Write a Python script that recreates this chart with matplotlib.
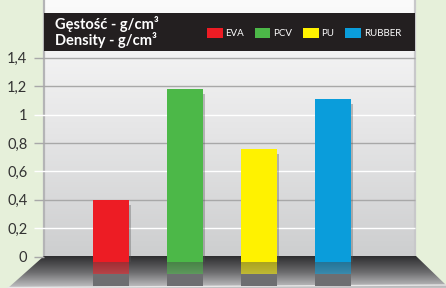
import numpy as np
import matplotlib as mpl
mpl.use("Agg")
import matplotlib.pyplot as plt
from matplotlib.patches import Polygon, Rectangle

# data
materials = ["EVA", "PCV", "PU", "RUBBER"]
density = [0.40, 1.18, 0.76, 1.11]
colors = ["#ed1c24", "#4cb848", "#fff200", "#0a9ddb"]
yticks = [0, 0.2, 0.4, 0.6, 0.8, 1.0, 1.2, 1.4]
ytick_labels = ["0", "0,2", "0,4", "0,6", "0,8", "1", "1,2", "1,4"]
grid_colors = ["#a8a8a8", "#ffffff", "#a8a8a8", "#ffffff", "#a8a8a8", "#ffffff", "#a8a8a8", "#a8a8a8"]
title_lines = ["Gęstość - g/cm³", "Density - g/cm³"]

W, H = 446, 288
BG = "#e6f0da"
FONT = "Lato"

fig = plt.figure(figsize=(W / 100, H / 100), dpi=100)
fig.patch.set_facecolor(BG)

# background axes in pixel coordinates for the decoration
bg = fig.add_axes([0, 0, 1, 1])
bg.set_xlim(0, W)
bg.set_ylim(H, 0)
bg.axis("off")

# back wall with a vertical gradient
wall = np.linspace(0, 1, 256).reshape(-1, 1)
wall_cmap = mpl.colors.LinearSegmentedColormap.from_list("wall", ["#fbfbfb", "#e6e6e7", "#cdcecf"])
bg.imshow(wall, cmap=wall_cmap, extent=(44, 415, 257, 0), aspect="auto", zorder=0)
bg.plot([44, 44], [0, 257], color="#b4b4b6", lw=1.6, zorder=1)
bg.plot([415, 415], [0, 257], color="#c8c8ca", lw=1.6, zorder=1)

# floor
floor = Polygon([(44, 256), (416, 256), (446, 285), (446, 288), (8, 288)], closed=True,
                facecolor="none", edgecolor="none")
bg.add_patch(floor)
floor_cmap = mpl.colors.LinearSegmentedColormap.from_list("floor", ["#2d2d2f", "#6b6b6d", "#c4c4c6"])
fimg = bg.imshow(wall, cmap=floor_cmap, extent=(0, W, 288, 256), aspect="auto", zorder=1)
fimg.set_clip_path(floor)
bg.plot([8, 446], [287.5, 285], color="#e8e8e8", lw=1.0, zorder=2)

# header band
bg.add_patch(Rectangle((44, 13), 371, 38, facecolor="#231f20", edgecolor="none", zorder=3))
bg.text(55, 29, title_lines[0], color="white", fontsize=10.5, fontweight="bold",
        family=FONT, va="baseline", zorder=4)
bg.text(55, 45, title_lines[1], color="white", fontsize=10.5, fontweight="bold",
        family=FONT, va="baseline", zorder=4)

# data axes
ax = fig.add_axes([44 / W, 0, (415 - 44) / W, 1])
ax.set_facecolor("none")
px = 140.0  # pixels per unit
ax.set_ylim(-31 / px, 1.4 + 57 / px)
ax.set_xlim((44 - 37) / 74, (415 - 37) / 74)
for s in ax.spines.values():
    s.set_visible(False)
ax.set_xticks([])
ax.set_yticks(yticks)
ax.set_yticklabels(ytick_labels)
ax.tick_params(axis="y", length=0, pad=12, labelsize=10.5, labelcolor="#333333")
for lab in ax.get_yticklabels():
    lab.set_family(FONT)

x0 = (34 - 37) / 74
for y, c in zip(yticks[1:], grid_colors[1:]):
    ax.hlines(y, x0, 5.108, color=c, lw=1.0, clip_on=False, zorder=1)
ax.hlines(0, x0, 0.095, color="#a8a8a8", lw=1.0, clip_on=False, zorder=1)

xs = np.arange(1, len(materials) + 1)
bw = 36 / 74
base = -0.035
# bar shadows
ax.bar(xs + 0.03, density, width=bw, bottom=base, color="#555555", alpha=0.35, zorder=2)
bars = ax.bar(xs, np.array(density) - base, width=bw, bottom=base, color=colors,
              label=materials, zorder=3)
# reflection on the floor and grey base
ax.bar(xs, -0.085, width=bw, bottom=base, color=colors, alpha=0.55, zorder=3)
ax.bar(xs, -0.085, width=bw, bottom=base - 0.085, color="#6d6e71", zorder=3)

leg = ax.legend(handles=bars, labels=materials, ncol=4, loc="center left",
                bbox_to_anchor=(207, 33), bbox_transform=bg.transData,
                frameon=False, fontsize=7, labelcolor="white",
                handlelength=1.6, handleheight=1.35, handletextpad=0.3,
                columnspacing=1.1, borderpad=0, borderaxespad=0)
for t in leg.get_texts():
    t.set_family(FONT)
leg.set_zorder(5)

fig.savefig("out.png", dpi=100, facecolor=BG)
